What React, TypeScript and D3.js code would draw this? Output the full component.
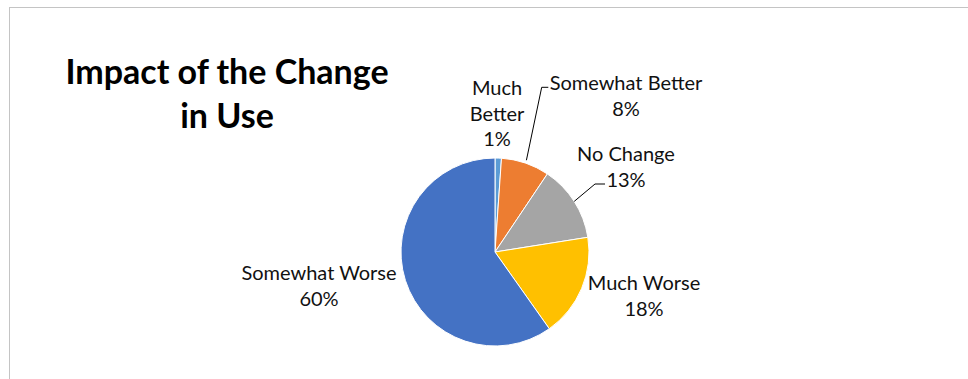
import React from 'react';
import * as d3 from 'd3';

const categories = ['Much Better', 'Somewhat Better', 'No Change', 'Much Worse', 'Somewhat Worse'];
const values = [1.1, 8.3, 13.1, 17.7, 59.8];
const colors = ['#5B9BD5', '#ED7D31', '#A5A5A5', '#FFC000', '#4472C4'];
const labelNameLines = [['Much', 'Better'], ['Somewhat Better'], ['No Change'], ['Much Worse'], ['Somewhat Worse']];
const titleLines = ['Impact of the Change', 'in Use'];

const W = 968;
const H = 379;
const cx = 495;
const cy = 252;
const R = 94;
const FONT = 'Lato, "Open Sans", sans-serif';
const LABEL_SIZE = 20;
const LINE_H = 25.5;

// label placement relative to pie centre (layout only)
const labelLayout = [
  { dx: 2, dy: -157, leader: null },
  { dx: 131, dy: -162, leader: { ex: 46.7, ey: -164.7, hook: 6.6, r: 97 } },
  { dx: 131, dy: -91, leader: { ex: 100, ey: -68, hook: 10, r: 94 } },
  { dx: 149, dy: 38, leader: null },
  { dx: -176, dy: 28, leader: null },
];

export default function App() {
  const total = d3.sum(values);
  const pie = d3.pie<number>().sort(null).value((d) => d)(values);
  const arc = d3.arc<d3.PieArcDatum<number>>().innerRadius(0).outerRadius(R);

  return (
    <svg
      width={W}
      height={H}
      style={{ position: 'absolute', left: 0, top: 0, background: '#fff' }}
    >
      <rect x={9.5} y={7.5} width={W + 20} height={H + 20} fill="#fff" stroke="#c4c4c4" strokeWidth={1} />
      <text
        x={227}
        y={84}
        textAnchor="middle"
        fontFamily={FONT}
        fontWeight="bold"
        fontSize={34}
        fill="#000"
      >
        {titleLines.map((t, i) => (
          <tspan key={i} x={227} dy={i === 0 ? 0 : 44}>
            {t}
          </tspan>
        ))}
      </text>
      <g transform={`translate(${cx},${cy})`}>
        {pie.map((p, i) => (
          <path key={categories[i]} d={arc(p) || ''} fill={colors[i]} stroke="#fff" strokeWidth={1} />
        ))}
        {pie.map((p, i) => {
          const lay = labelLayout[i];
          if (!lay.leader) return null;
          const mid = (p.startAngle + p.endAngle) / 2;
          const sx = Math.sin(mid) * lay.leader.r;
          const sy = -Math.cos(mid) * lay.leader.r;
          const pts: [number, number][] = [
            [sx, sy],
            [lay.leader.ex, lay.leader.ey],
            [lay.leader.ex + lay.leader.hook, lay.leader.ey],
          ];
          return (
            <path
              key={'l' + i}
              d={d3.line()(pts) || ''}
              fill="none"
              stroke="#000"
              strokeWidth={1}
            />
          );
        })}
        {pie.map((p, i) => {
          const lay = labelLayout[i];
          const lines = [...labelNameLines[i], `${Math.round((values[i] / total) * 100)}%`];
          return (
            <text
              key={'t' + i}
              x={lay.dx}
              y={lay.dy}
              textAnchor="middle"
              fontFamily={FONT}
              fontSize={LABEL_SIZE}
              fill="#111"
            >
              {lines.map((t, j) => (
                <tspan key={j} x={lay.dx} dy={j === 0 ? 0 : LINE_H}>
                  {t}
                </tspan>
              ))}
            </text>
          );
        })}
      </g>
    </svg>
  );
}
